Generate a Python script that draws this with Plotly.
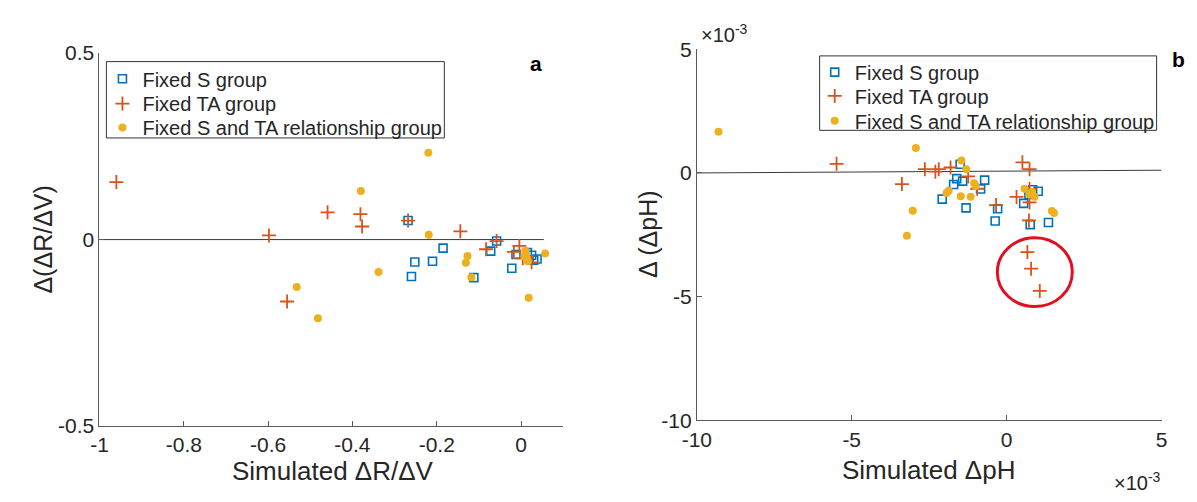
import plotly.graph_objects as go

# ---------------- Panel a: Simulated dR/dV vs Delta(dR/dV) ----------------
a_S_x = [-0.268, -0.185, -0.252, -0.210, -0.260, -0.112, -0.072, -0.058, -0.022, -0.012, 0.015, 0.025, 0.030, 0.038]
a_S_y = [0.051, -0.023, -0.060, -0.058, -0.099, -0.102, -0.031, -0.004, -0.077, -0.040, -0.035, -0.042, -0.055, -0.052]

a_TA_x = [-0.960, -0.598, -0.459, -0.381, -0.377, -0.268, -0.144, -0.083, -0.058, -0.555, -0.004, -0.017, 0.004, 0.025, 0.015]
a_TA_y = [0.154, 0.011, 0.073, 0.068, 0.035, 0.051, 0.022, -0.026, -0.004, -0.166, -0.017, -0.033, -0.050, -0.061, -0.045]

a_STA_x = [-0.220, -0.380, -0.219, -0.338, -0.532, -0.482, -0.127, -0.131, -0.118, 0.010, 0.012, 0.014, 0.016, 0.008, 0.057, 0.018]
a_STA_y = [0.233, 0.130, 0.013, -0.087, -0.127, -0.211, -0.044, -0.062, -0.101, -0.030, -0.040, -0.050, -0.058, -0.045, -0.037, -0.156]

a_line_x = [-1.0, 0.054]
a_line_y = [0.0, 0.0]

a_xticks = [-1, -0.8, -0.6, -0.4, -0.2, 0]
a_xticklabels = ["-1", "-0.8", "-0.6", "-0.4", "-0.2", "0"]
a_yticks = [-0.5, 0, 0.5]
a_yticklabels = ["-0.5", "0", "0.5"]

# ---------------- Panel b: Simulated dpH vs Delta(dpH), units of 1e-3 ----------------
b_S_x = [-1.50, -1.61, -1.71, -1.42, -0.71, -0.84, -2.08, -1.31, -0.29, -0.37, 0.55, 0.72, 0.84, 1.02, 0.76, 1.35]
b_S_y = [0.35, -0.23, -0.47, -0.33, -0.29, -0.65, -1.06, -1.41, -1.45, -1.94, -1.23, -0.87, -0.68, -0.74, -2.09, -2.00]

b_TA_x = [-5.49, -3.38, -2.64, -2.30, -2.19, -1.81, -1.24, -0.95, -0.34, 0.32, 0.51, 0.74, 0.74, 0.74, 0.72, 0.67, 0.79, 1.07]
b_TA_y = [0.37, -0.45, 0.15, 0.05, 0.15, 0.22, -0.14, -0.64, -1.30, -0.97, 0.43, 0.15, -0.65, -1.19, -1.92, -3.20, -3.87, -4.77]

b_STA_x = [-9.30, -2.93, -1.46, -1.30, -1.05, -1.94, -1.87, -1.48, -1.16, -3.03, -3.22, 0.58, 0.74, 0.90, 0.82, 1.46, 1.53, -1.00]
b_STA_y = [1.66, 1.01, 0.50, 0.15, -0.42, -0.81, -0.72, -0.94, -0.96, -1.53, -2.54, -0.64, -0.87, -0.96, -0.77, -1.54, -1.62, -0.53]

b_line_x = [-10.0, 5.0]
b_line_y = [0.0, 0.11]

b_circle_x = [-0.30, 2.12]
b_circle_y = [-5.40, -2.62]

b_ticks = [-10, -5, 0, 5]
b_ticklabels = ["-10", "-5", "0", "5"]

legend_names = ["Fixed S group", "Fixed TA group", "Fixed S and TA relationship group"]

BLUE = "#0072BD"
ORANGE = "#D95319"
YELLOW = "#EDB120"
AX = "#5a5a5a"
TXT = "#262626"
FONT = "Liberation Sans, Arial, sans-serif"

fig = go.Figure()

def add_panel(xa, ya, legs, sx, sy, tx, ty, ox, oy, lx, ly):
    fig.add_trace(go.Scatter(x=lx, y=ly, mode="lines", line=dict(color="#3a3a3a", width=1),
                             showlegend=False, xaxis=xa, yaxis=ya, hoverinfo="skip"))
    fig.add_trace(go.Scatter(x=sx, y=sy, mode="markers", name=legend_names[0], legend=legs[0],
                             marker=dict(symbol="square-open", size=8, color=BLUE, line=dict(width=1.6, color=BLUE)),
                             xaxis=xa, yaxis=ya))
    fig.add_trace(go.Scatter(x=tx, y=ty, mode="markers", name=legend_names[1], legend=legs[1],
                             marker=dict(symbol="cross-thin-open", size=10, color=ORANGE, line=dict(width=1.8, color=ORANGE)),
                             xaxis=xa, yaxis=ya))
    fig.add_trace(go.Scatter(x=ox, y=oy, mode="markers", name=legend_names[2], legend=legs[2],
                             marker=dict(symbol="circle", size=8, color=YELLOW, line=dict(width=0)),
                             xaxis=xa, yaxis=ya))

add_panel("x", "y", ["legend", "legend2", "legend3"], a_S_x, a_S_y, a_TA_x, a_TA_y, a_STA_x, a_STA_y, a_line_x, a_line_y)
add_panel("x2", "y2", ["legend4", "legend5", "legend6"], b_S_x, b_S_y, b_TA_x, b_TA_y, b_STA_x, b_STA_y, b_line_x, b_line_y)

W, H = 1197, 502

def fx(px):
    return px / W

def fy(py):
    return 1 - py / H

axis_common = dict(showline=True, linecolor=AX, linewidth=1, ticks="inside", ticklen=5,
                   tickcolor=AX, showgrid=False, zeroline=False, mirror=False,
                   tickfont=dict(family=FONT, size=21, color=TXT))

def leg(x, y):
    return dict(x=fx(x), y=fy(y), xanchor="left", yanchor="middle", bgcolor="rgba(0,0,0,0)", borderwidth=0,
                font=dict(family=FONT, size=20, color=TXT), itemsizing="trace")

# legend rows (pixel centres) for each panel
rows_a = [70, 96, 121]
rows_b = [63, 88, 114]

fig.update_layout(
    width=W, height=H,
    margin=dict(l=0, r=0, t=0, b=0),
    paper_bgcolor="white", plot_bgcolor="white",
    font=dict(family=FONT, color=TXT),
    xaxis=dict(domain=[fx(86), fx(558)], range=[-1, 0.1], anchor="y",
               tickvals=a_xticks, ticktext=a_xticklabels, **axis_common),
    yaxis=dict(domain=[fy(434), fy(43)], range=[-0.5, 0.5], anchor="x",
               tickvals=a_yticks, ticktext=a_yticklabels, **axis_common),
    xaxis2=dict(domain=[fx(694), fx(1167)], range=[-10, 5], anchor="y2",
                tickvals=b_ticks, ticktext=b_ticklabels, **axis_common),
    yaxis2=dict(domain=[fy(428), fy(39)], range=[-10, 5], anchor="x2",
                tickvals=b_ticks, ticktext=b_ticklabels, **axis_common),
    legend=leg(89, rows_a[0]), legend2=leg(89, rows_a[1]), legend3=leg(89, rows_a[2]),
    legend4=leg(814, rows_b[0]), legend5=leg(814, rows_b[1]), legend6=leg(814, rows_b[2]),
    showlegend=True,
)

# legend frames (MATLAB-style boxes)
for (l, t, r, b) in [(93, 52, 437, 132), (819, 46, 1162, 124)]:
    fig.add_shape(type="rect", xref="paper", yref="paper",
                  x0=fx(l), x1=fx(r), y0=fy(b), y1=fy(t),
                  line=dict(color="#333333", width=1), fillcolor="rgba(0,0,0,0)", layer="above")

fig.add_shape(type="circle", xref="x2", yref="y2",
              x0=b_circle_x[0], x1=b_circle_x[1], y0=b_circle_y[0], y1=b_circle_y[1],
              line=dict(color="#E01020", width=3))

def ann(text, x, y, size, rot=0, bold=False, xanchor="center", yanchor="middle"):
    fig.add_annotation(text=("<b>%s</b>" % text) if bold else text, xref="paper", yref="paper",
                       x=fx(x), y=fy(y), showarrow=False, textangle=rot,
                       xanchor=xanchor, yanchor=yanchor,
                       font=dict(family=FONT, size=size, color="black" if bold else TXT))

ann("Simulated ΔR/ΔV", 324, 481, 26)
ann("Simulated ΔpH", 930, 480, 26)
ann("Δ(ΔR/ΔV)", 29, 238, 25, rot=-90)
ann("Δ (ΔpH)", 645, 233, 25, rot=-90)
ann("a", 530, 54, 21, bold=True)
ann("b", 1184, 50, 21, bold=True)
ann("×10<sup>-3</sup>", 696, 23, 20, xanchor="left")
ann("×10<sup>-3</sup>", 1169, 492, 20, xanchor="right")

fig.write_html("out.html")
